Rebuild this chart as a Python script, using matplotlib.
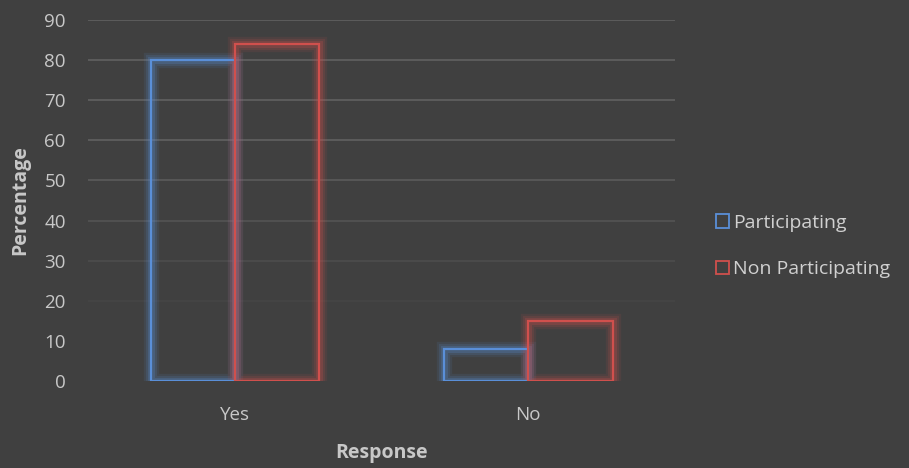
import numpy as np
import matplotlib.pyplot as plt
from matplotlib.patches import Patch

# survey data
categories = ['Yes', 'No']
participating = [80, 8]
non_participating = [84, 15]
y_ticks = [0, 10, 20, 30, 40, 50, 60, 70, 80, 90]

bg = '#404040'
blue = '#5a8fd8'
red = '#d0504d'
text_col = '#c8c8c8'

plt.rcParams['font.family'] = ['Open Sans', 'DejaVu Sans']

fig = plt.figure(figsize=(9.09, 4.68), dpi=100, facecolor=bg)
ax = fig.add_axes([0.0968, 0.186, 0.6458, 0.771], facecolor=bg)

x = np.arange(len(categories))
w = 0.287

# gridlines fade out toward the bottom
for v in y_ticks:
    a = np.clip((v - 12) / 45, 0, 1)
    ax.axhline(v, color='#5e5e5e', lw=1.3, alpha=a, zorder=0)

# glow + outline bars
for vals, off, col in [(participating, -w, blue), (non_participating, 0, red)]:
    for lw, al in [(11, 0.10), (8, 0.14), (5, 0.22)]:
        ax.bar(x + off, vals, w, align='edge', fill=False, edgecolor=col,
               linewidth=lw, alpha=al, zorder=2)
    ax.bar(x + off, vals, w, align='edge', fill=False, edgecolor=col,
           linewidth=1.6, zorder=3)

ax.set_xlim(-0.5, 1.5)
ax.set_ylim(0, 90)
ax.set_yticks(y_ticks)
ax.set_xticks(x)
ax.set_xticklabels(categories)
for s in ax.spines.values():
    s.set_visible(False)
ax.tick_params(axis='both', length=0, colors=text_col, labelsize=13.5)
ax.tick_params(axis='y', pad=16)
ax.tick_params(axis='x', pad=18)

ax.set_ylabel('Percentage', color=text_col, fontsize=14, fontweight='bold', labelpad=10)
ax.set_xlabel('Response', color=text_col, fontsize=14, fontweight='bold', labelpad=14)

handles = [Patch(facecolor='none', edgecolor=blue, linewidth=1.3, label='Participating'),
           Patch(facecolor='none', edgecolor=red, linewidth=1.3, label='Non Participating')]
leg = fig.legend(handles=handles, loc='upper left', bbox_to_anchor=(0.768, 0.58),
                 frameon=False, fontsize=14, labelcolor='#d0d0d0',
                 handlelength=0.7, handleheight=0.7, handletextpad=0.2,
                 labelspacing=1.45)

fig.savefig('out.png', dpi=100, facecolor=bg)
